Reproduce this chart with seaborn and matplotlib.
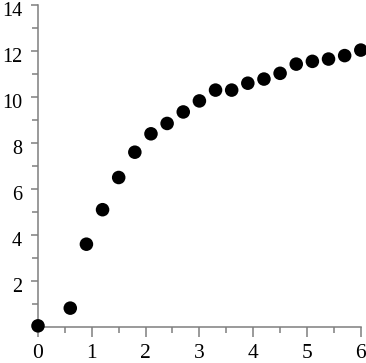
import matplotlib
matplotlib.use("Agg")
import matplotlib.pyplot as plt
import matplotlib.ticker as ticker
import matplotlib.transforms as mtransforms
import pandas as pd
import seaborn as sns

# values
x_vals = [0.0, 0.6, 0.9, 1.2, 1.5, 1.8, 2.1, 2.4, 2.7, 3.0, 3.3, 3.6,
          3.9, 4.2, 4.5, 4.8, 5.1, 5.4, 5.7, 6.0]
y_vals = [0.05, 0.82, 3.6, 5.1, 6.5, 7.6, 8.4, 8.85, 9.35, 9.83, 10.3, 10.3,
          10.6, 10.78, 11.03, 11.43, 11.55, 11.65, 11.8, 12.04]
x_ticks = [0, 1, 2, 3, 4, 5, 6]
y_ticks = [2, 4, 6, 8, 10, 12, 14]

df = pd.DataFrame({"x": x_vals, "y": y_vals})

sns.set_style("ticks")
plt.rcParams["font.family"] = ["Liberation Serif", "DejaVu Serif"]

fig = plt.figure(figsize=(3.66, 3.63), dpi=100)
ax = fig.add_axes([0.1038, 0.0992, 0.882, 0.887])

sns.scatterplot(data=df, x="x", y="y", ax=ax, color="black",
                edgecolor="none", s=95, clip_on=False, zorder=3)

ax.set_xlim(0, 6)
ax.set_ylim(0, 14)
ax.set_xticks(x_ticks)
ax.set_yticks(y_ticks)
ax.xaxis.set_minor_locator(ticker.MultipleLocator(0.5))
ax.yaxis.set_minor_locator(ticker.MultipleLocator(1))
ax.set_xlabel("")
ax.set_ylabel("")

gray = "#7f7f7f"
for side in ["top", "right"]:
    ax.spines[side].set_visible(False)
for side in ["left", "bottom"]:
    ax.spines[side].set_color(gray)
    ax.spines[side].set_linewidth(1.1)

ax.tick_params(axis="x", which="major", length=7, width=1.1, color=gray,
               labelsize=15.5, pad=5, labelcolor="black")
ax.tick_params(axis="x", which="minor", length=4, width=1.1, color=gray)
ax.tick_params(axis="y", which="major", length=5, width=1.1, color=gray,
               labelsize=14.5, pad=6.5, labelcolor="black")
ax.tick_params(axis="y", which="minor", length=4, width=1.1, color=gray)

# y labels sit a little below their ticks in the reference
shift = mtransforms.ScaledTranslation(0, -3 / 72, fig.dpi_scale_trans)
for lab in ax.get_yticklabels():
    lab.set_transform(lab.get_transform() + shift)

fig.savefig("out.png", dpi=100)
plt.close(fig)
